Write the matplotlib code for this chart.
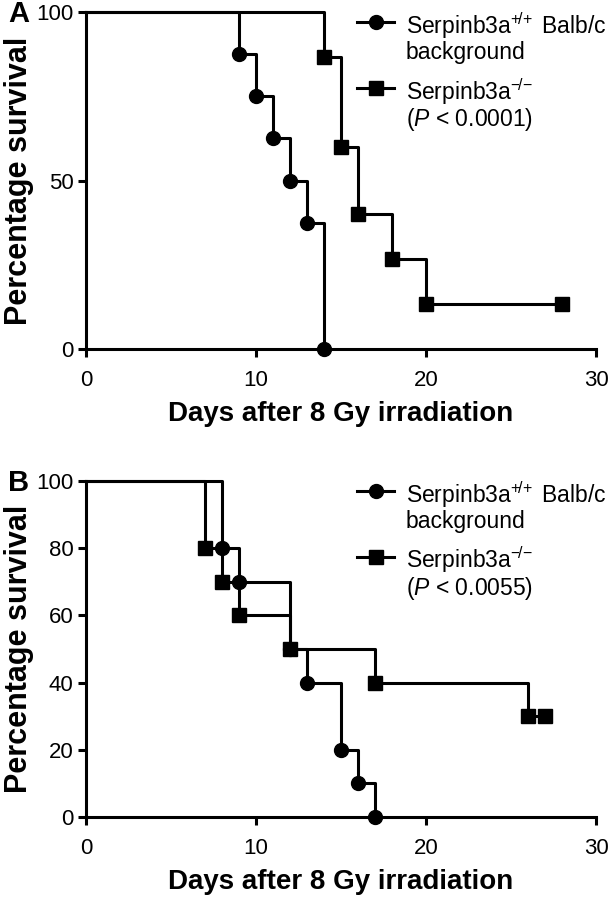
import matplotlib
matplotlib.use("Agg")
import matplotlib.pyplot as plt

plt.rcParams['font.family'] = ['Liberation Sans', 'DejaVu Sans']
plt.rcParams['mathtext.fontset'] = 'custom'
plt.rcParams['mathtext.rm'] = 'Liberation Sans'
plt.rcParams['mathtext.it'] = 'Liberation Sans:italic'

# panel A
a_wt_days = [0, 9, 10, 11, 12, 13, 14]
a_wt_surv = [100, 87.5, 75, 62.5, 50, 37.5, 0]
a_ko_days = [0, 14, 15, 16, 18, 20, 28]
a_ko_surv = [100, 86.7, 60, 40, 26.7, 13.3, 13.3]
a_yticks = [0, 50, 100]
a_pval = '0.0001'

# panel B
b_wt_days = [0, 8, 9, 12, 13, 15, 16, 17]
b_wt_surv = [100, 80, 70, 50, 40, 20, 10, 0]
b_ko_days = [0, 7, 8, 9, 12, 17, 26, 27]
b_ko_surv = [100, 80, 70, 60, 50, 40, 30, 30]
b_yticks = [0, 20, 40, 60, 80, 100]
b_pval = '0.0055'

xticks = [0, 10, 20, 30]
wt_label = r'Serpinb3a$^{+\!/\!+}$ Balb/c'
ko_label = r'Serpinb3a$^{-\!/\!-}$'

LW = 2.2
LEG_FS = 16.5


def km_panel(ax, wt_d, wt_s, ko_d, ko_s, yticks, pval):
    ax.step(wt_d, wt_s, where='post', color='k', lw=LW, clip_on=False, zorder=3)
    ax.plot(wt_d[1:], wt_s[1:], 'o', color='k', ms=10, clip_on=False, zorder=4)
    ax.step(ko_d, ko_s, where='post', color='k', lw=LW, clip_on=False, zorder=3)
    ax.plot(ko_d[1:], ko_s[1:], 's', color='k', ms=9.5, clip_on=False, zorder=5)

    ax.set_xlim(0, 30)
    ax.set_ylim(0, 100)
    ax.set_xticks(xticks)
    ax.set_yticks(yticks)
    for s in ['top', 'right']:
        ax.spines[s].set_visible(False)
    for s in ['left', 'bottom']:
        ax.spines[s].set_linewidth(LW)
    ax.tick_params(width=LW, length=6, labelsize=16, color='k')
    ax.tick_params(axis='x', pad=9)
    ax.tick_params(axis='y', pad=3)
    ax.set_xlabel('Days after 8 Gy irradiation', fontsize=20, fontweight='bold', labelpad=7)
    ax.set_ylabel('Percentage survival', fontsize=22, fontweight='bold')
    ax.yaxis.set_label_coords(-0.102, 0.5)

    # legend drawn by hand so the handle sits on the first text line
    hx = [0.531, 0.568, 0.604]
    tx = 0.627
    rows = [(0.970, 'o', 10, wt_label), (0.775, 's', 9.5, ko_label)]
    for y, m, ms, lab in rows:
        ax.plot(hx, [y] * 3, color='k', lw=LW, marker=m, ms=ms, markevery=[1],
                transform=ax.transAxes, clip_on=False)
        ax.text(tx, y, lab, transform=ax.transAxes, fontsize=LEG_FS, va='center_baseline')
    ax.text(tx, 0.887, 'background', transform=ax.transAxes, fontsize=LEG_FS,
            va='center_baseline')
    ax.text(tx, 0.692, r'($P$ < ' + pval + ')', transform=ax.transAxes, fontsize=LEG_FS,
            va='center_baseline')


fig = plt.figure(figsize=(6.15, 9), dpi=100)
axA = fig.add_axes([0.1398, 0.6122, 0.8293, 0.3744])
axB = fig.add_axes([0.1398, 0.0922, 0.8293, 0.3733])

km_panel(axA, a_wt_days, a_wt_surv, a_ko_days, a_ko_surv, a_yticks, a_pval)
km_panel(axB, b_wt_days, b_wt_surv, b_ko_days, b_ko_surv, b_yticks, b_pval)

fig.text(0.013, 1 - 14 / 900, 'A', fontsize=21, fontweight='bold', va='center')
fig.text(0.013, 1 - 483 / 900, 'B', fontsize=21, fontweight='bold', va='center')

fig.savefig('out.png', dpi=100)
